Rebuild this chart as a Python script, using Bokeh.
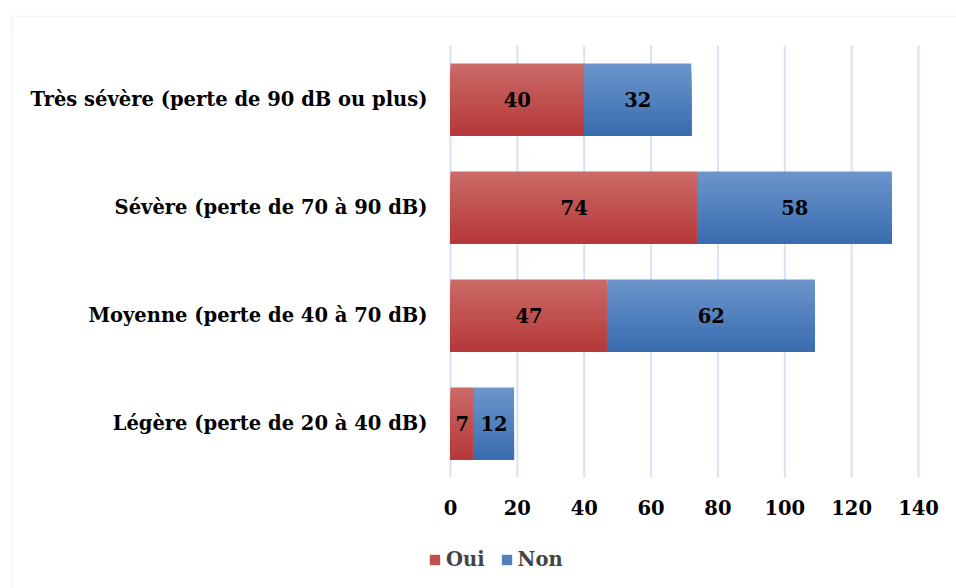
from bokeh.plotting import figure
from bokeh.models import ColumnDataSource, Legend, LegendItem, BoxAnnotation, LabelSet
from bokeh.embed import file_html
from bokeh.resources import INLINE
from bokeh.core.properties import value

categories = ["Légère (perte de 20 à 40 dB)", "Moyenne (perte de 40 à 70 dB)",
              "Sévère (perte de 70 à 90 dB)", "Très sévère (perte de 90 dB ou plus)"]
oui = [7, 47, 74, 40]
non = [12, 62, 58, 32]
series = ["Oui", "Non"]
x_ticks = [0, 20, 40, 60, 80, 100, 120, 140]

FONT = "DejaVu Serif"
FS = "19.5px"
W, H = 956, 588
# pixel layout: value 0 -> x=450, 140 -> x=918 ; category rows 108px apart
SX = (918 - 450) / 140.0
XR = (-450 / SX, (W - 450) / SX)
YR = ((423 - H) / 108.0, 423 / 108.0)

p = figure(x_range=XR, y_range=YR, width=W, height=H,
           output_backend="svg", toolbar_location=None,
           min_border_left=0, min_border_right=0, min_border_top=0, min_border_bottom=0)
p.outline_line_color = None
p.xaxis.visible = False
p.yaxis.visible = False
p.xgrid.grid_line_color = None
p.ygrid.grid_line_color = None

ypos = list(range(len(categories)))
n = len(categories)

# vertical gridlines at tick values, spanning the category band
p.segment(x0=x_ticks, x1=x_ticks, y0=[-0.5] * len(x_ticks), y1=[n - 0.5] * len(x_ticks),
          line_color="#D6E3F5", line_width=2)

def lerp(c1, c2, t):
    a = [int(c1[i:i+2], 16) for i in (1, 3, 5)]
    b = [int(c2[i:i+2], 16) for i in (1, 3, 5)]
    return "#%02x%02x%02x" % tuple(round(a[j] + (b[j] - a[j]) * t) for j in range(3))

gradients = {"Oui": ("#CA6A66", "#B6383A"), "Non": ("#6B95CB", "#3A6DB0")}

left_oui = [0] * n
right_oui = list(oui)
left_non = list(oui)
right_non = [o + v for o, v in zip(oui, non)]

BAR = 72 / 108.0
N = 24
legend_renderers = {}
for s, L, R in (("Oui", left_oui, right_oui), ("Non", left_non, right_non)):
    top, bot = gradients[s]
    for k in range(N):
        ytop = BAR / 2 - k * BAR / N
        hgt = ytop + BAR / 2
        yc = [yp + (ytop - BAR / 2) / 2 for yp in ypos]
        col = lerp(top, bot, k / (N - 1))
        r = p.hbar(y=yc, left=L, right=R, height=hgt, fill_color=col, line_color=None)
        if k == N // 2:
            legend_renderers[s] = r

src = ColumnDataSource(dict(y=ypos, zero=[0] * n, cat=categories,
                            c_oui=[(a + b) / 2 for a, b in zip(left_oui, right_oui)],
                            c_non=[(a + b) / 2 for a, b in zip(left_non, right_non)],
                            t_oui=[str(v) for v in oui], t_non=[str(v) for v in non]))

txt = dict(text_font=value(FONT), text_font_style=value("bold"),
           text_font_size=value(FS), text_color="black", text_baseline="middle")

for ck, tk in (("c_oui", "t_oui"), ("c_non", "t_non")):
    p.add_layout(LabelSet(x=ck, y="y", text=tk, source=src, text_align="center", **txt))

# category labels (y axis)
p.add_layout(LabelSet(x="zero", y="y", text="cat", source=src, text_align="right",
                      x_offset=-23, **txt))

# x tick labels
tick_src = ColumnDataSource(dict(x=x_ticks, y=[-0.5 - 30 / 108.0] * len(x_ticks),
                                 t=[str(t) for t in x_ticks]))
p.add_layout(LabelSet(x="x", y="y", text="t", source=tick_src, text_align="center", **txt))

legend = Legend(items=[LegendItem(label=s, renderers=[legend_renderers[s]]) for s in series],
                orientation="horizontal", location=(428, 17),
                label_text_font=FONT, label_text_font_style="bold", label_text_font_size=FS,
                glyph_width=13, glyph_height=13, spacing=15, label_standoff=5,
                label_height=22, padding=0, margin=0,
                border_line_color=None, background_fill_alpha=0)
p.add_layout(legend, "center")

p.add_layout(BoxAnnotation(left=11, right=3000, top=16, bottom=3000,
                           left_units="canvas", right_units="canvas",
                           top_units="canvas", bottom_units="canvas",
                           fill_alpha=0, line_color="#D6E3F4", line_width=2))

open("out.html", "w").write(file_html(p, INLINE))
